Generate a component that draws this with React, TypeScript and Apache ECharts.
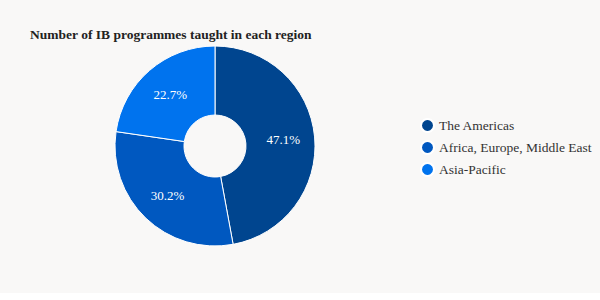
import React, { useEffect, useRef } from "react";
import * as echarts from "echarts";

const categories = ["The Americas", "Africa, Europe, Middle East", "Asia-Pacific"];
const values = [47.1, 30.2, 22.7];
const colors = ["#00458f", "#0058c0", "#0073ee"];

export default function App() {
  const ref = useRef<HTMLDivElement>(null);
  useEffect(() => {
    document.body.style.margin = "0";
    const chart = echarts.init(ref.current!, null, { renderer: "svg" });
    const font = "'Liberation Serif', 'Times New Roman', serif";
    chart.setOption({
      animation: false,
      backgroundColor: "#f9f8f7",
      title: {
        text: "Number of IB programmes taught in each region",
        left: 25,
        top: 22,
        textStyle: { fontFamily: font, fontSize: 13.5, fontWeight: "bold", color: "#222" },
      },
      legend: {
        orient: "vertical",
        left: 415,
        top: 113,
        icon: "circle",
        itemWidth: 13,
        itemHeight: 13,
        itemGap: 7,
        textStyle: { fontFamily: font, fontSize: 13.5, lineHeight: 13, color: "#333" },
        data: categories,
      },
      series: [
        {
          type: "pie",
          center: [215, 146],
          radius: [31, 100],
          startAngle: 90,
          clockwise: true,
          itemStyle: { borderColor: "#ffffff", borderWidth: 1 },
          label: {
            show: true,
            position: "inside",
            formatter: (p: any) => p.value.toFixed(1) + "%",
            color: "#ffffff",
            fontFamily: font,
            fontSize: 13,
          },
          labelLine: { show: false },
          emphasis: { disabled: true },
          data: categories.map((c, i) => ({ name: c, value: values[i], itemStyle: { color: colors[i] } })),
        },
      ],
    });
    return () => chart.dispose();
  }, []);
  return <div ref={ref} style={{ width: 600, height: 293 }} />;
}
